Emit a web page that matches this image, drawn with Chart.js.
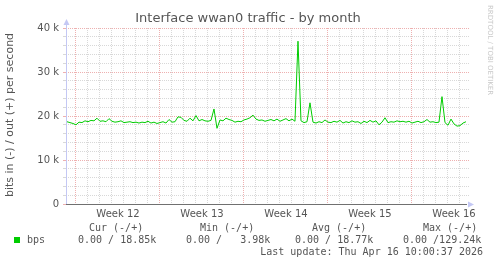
<!DOCTYPE html>
<html>
<head>
<meta charset="utf-8">
<script src="https://cdn.jsdelivr.net/npm/chart.js@4"></script>
<style>
  html, body { margin: 0; padding: 0; background: #ffffff; }
  #wrap { width: 497px; height: 264px; position: relative; }
</style>
</head>
<body>
<div id="wrap"><canvas id="traffic"></canvas></div>
<script>
// samples every 6 hours, day 0 = start of Week 12
const dayStart = -0.75;
const dayStep = 0.25;
// outgoing traffic, in kbit/s (incoming is 0)
const outKbps = [
  18.7, 18.5, 18.3, 18.0, 18.6, 18.5, 18.9, 18.7, 19.0, 18.9,
  19.5, 18.8, 18.9, 18.7, 19.4, 18.8, 18.6, 18.7, 18.9, 18.5,
  18.6, 18.7, 18.5, 18.6, 18.4, 18.6, 18.5, 18.8, 18.4, 18.6,
  18.3, 18.5, 18.7, 18.4, 19.2, 18.6, 18.7, 19.8, 19.7, 19.0,
  18.8, 19.5, 18.9, 20.1, 18.9, 19.2, 18.9, 18.8, 19.0, 21.6,
  17.2, 19.1, 18.9, 19.5, 19.2, 19.0, 18.6, 18.8, 18.7, 19.1,
  19.3, 19.6, 20.2, 19.3, 19.0, 19.1, 18.8, 19.0, 19.2, 18.9,
  19.3, 18.8, 19.1, 19.4, 18.9, 19.3, 18.8, 37.0, 18.9, 18.5,
  18.7, 23.0, 18.6, 18.4, 18.7, 18.5, 19.1, 18.6, 18.5, 18.8,
  18.6, 19.0, 18.4, 18.7, 18.5, 18.9, 18.6, 18.7, 18.3, 18.8,
  18.5, 19.0, 18.6, 18.9, 18.0, 18.6, 19.6, 18.5, 18.7, 18.6,
  18.9, 18.7, 18.8, 18.6, 18.8, 18.4, 18.6, 18.8, 18.5, 18.7,
  19.2, 18.6, 18.7, 18.5, 18.6, 24.4, 18.5, 17.9, 19.3, 18.2,
  17.7, 17.8, 18.4, 18.7
];
const weekLabels = ['Week 12', 'Week 13', 'Week 14', 'Week 15', 'Week 16'];
const dayMin = -0.833;
const dayMax = 32.75;

const legendHeaders = ['Cur (-/+)', 'Min (-/+)', 'Avg (-/+)', 'Max (-/+)'];
const legendValues = ['0.00 / 18.85k', '0.00 /   3.98k', '0.00 / 18.77k', '0.00 /129.24k'];
const seriesName = 'bps';
const lastUpdate = 'Last update: Thu Apr 16 10:00:37 2026';

const points = outKbps.map((v, i) => ({ x: dayStart + i * dayStep, y: v }));

const textColor = '#555555';
const minorGrid = '#d8d8d8';
const majorGrid = '#eeb0b0';
const axisBlue = '#c4c8f4';

const extras = {
  id: 'extras',
  afterDraw(chart) {
    const ctx = chart.ctx;
    const a = chart.chartArea;
    ctx.save();

    // axes with arrows
    ctx.strokeStyle = axisBlue;
    ctx.lineWidth = 1;
    ctx.beginPath();
    ctx.moveTo(a.left + 0.5, a.bottom);
    ctx.lineTo(a.left + 0.5, a.top - 4);
    ctx.stroke();
    ctx.fillStyle = axisBlue;
    ctx.beginPath();
    ctx.moveTo(a.left - 2.5, a.top - 3);
    ctx.lineTo(a.left + 3.5, a.top - 3);
    ctx.lineTo(a.left + 0.5, a.top - 9);
    ctx.closePath();
    ctx.fill();
    ctx.beginPath();
    ctx.moveTo(a.right - 1, a.bottom - 2.5);
    ctx.lineTo(a.right - 1, a.bottom + 3.5);
    ctx.lineTo(a.right + 5, a.bottom + 0.5);
    ctx.closePath();
    ctx.fill();
    ctx.strokeStyle = '#707070';
    ctx.beginPath();
    ctx.moveTo(a.left, a.bottom + 0.5);
    ctx.lineTo(a.right - 2, a.bottom + 0.5);
    ctx.stroke();

    // title
    ctx.fillStyle = textColor;
    ctx.textBaseline = 'middle';
    ctx.textAlign = 'center';
    ctx.font = '13px "DejaVu Sans"';
    ctx.fillText('Interface wwan0 traffic - by month', 248, 19);

    // y axis title
    ctx.save();
    ctx.translate(10, 115);
    ctx.rotate(-Math.PI / 2);
    ctx.font = '11px "DejaVu Sans"';
    ctx.fillText('bits in (-) / out (+) per second', 0, 0);
    ctx.restore();

    // watermark
    ctx.save();
    ctx.translate(490, 5);
    ctx.rotate(Math.PI / 2);
    ctx.textAlign = 'left';
    ctx.fillStyle = '#c8c8c8';
    ctx.font = '7px "DejaVu Sans"';
    ctx.fillText('RRDTOOL / TOBI OETIKER', 0, 0);
    ctx.restore();

    // legend
    ctx.font = '10px "DejaVu Sans Mono"';
    ctx.textAlign = 'left';
    ctx.fillStyle = textColor;
    const headX = [89, 200, 312, 423];
    const valX = [78, 186, 295, 403];
    legendHeaders.forEach((h, i) => ctx.fillText(h, headX[i], 228));
    legendValues.forEach((v, i) => ctx.fillText(v, valX[i], 240));
    ctx.fillText(seriesName, 27, 240);
    ctx.textAlign = 'right';
    ctx.fillText(lastUpdate, 483, 252);
    ctx.fillStyle = '#00cc00';
    ctx.fillRect(14, 237, 6, 6);

    ctx.restore();
  }
};

new Chart(document.getElementById('traffic'), {
  type: 'line',
  data: {
    datasets: [{
      label: seriesName,
      data: points,
      borderColor: '#00cc00',
      borderWidth: 1,
      pointRadius: 0,
      tension: 0,
      fill: false
    }]
  },
  options: {
    responsive: true,
    maintainAspectRatio: false,
    animation: false,
    devicePixelRatio: 1,
    layout: { padding: { top: 28, right: 28, bottom: 40, left: 0 } },
    plugins: { legend: { display: false }, tooltip: { enabled: false }, title: { display: false } },
    scales: {
      x: {
        type: 'linear',
        min: dayMin,
        max: dayMax,
        afterFit: (s) => { s.height = 20; },
        border: { display: false, dash: [1, 1] },
        grid: {
          drawTicks: false,
          color: (c) => {
            const v = c.tick.value;
            if (Math.abs(v % 7) < 1e-6) return majorGrid;
            if (Math.abs(v - Math.round(v)) < 1e-6) return minorGrid;
            return 'rgba(0,0,0,0)';
          }
        },
        ticks: {
          stepSize: 0.5,
          autoSkip: false,
          maxRotation: 0,
          padding: 4,
          color: textColor,
          font: { family: 'DejaVu Sans', size: 10 },
          callback: (v) => {
            const w = (v - 3.5) / 7;
            if (Math.abs(w - Math.round(w)) < 1e-6 && weekLabels[Math.round(w)]) return weekLabels[Math.round(w)];
            return '';
          }
        }
      },
      y: {
        min: 0,
        max: 40,
        afterFit: (s) => { s.width = 66; },
        border: { display: false, dash: [1, 1] },
        grid: {
          tickLength: 3,
          tickBorderDash: [],
          color: (c) => (c.tick.value % 10 === 0 ? majorGrid : minorGrid)
        },
        ticks: {
          stepSize: 2,
          autoSkip: false,
          padding: 4,
          color: textColor,
          font: { family: 'DejaVu Sans', size: 10 },
          callback: (v) => (v % 10 === 0 ? (v === 0 ? '0' : v + ' k') : '')
        }
      }
    }
  },
  plugins: [extras]
});
</script>
</body>
</html>
